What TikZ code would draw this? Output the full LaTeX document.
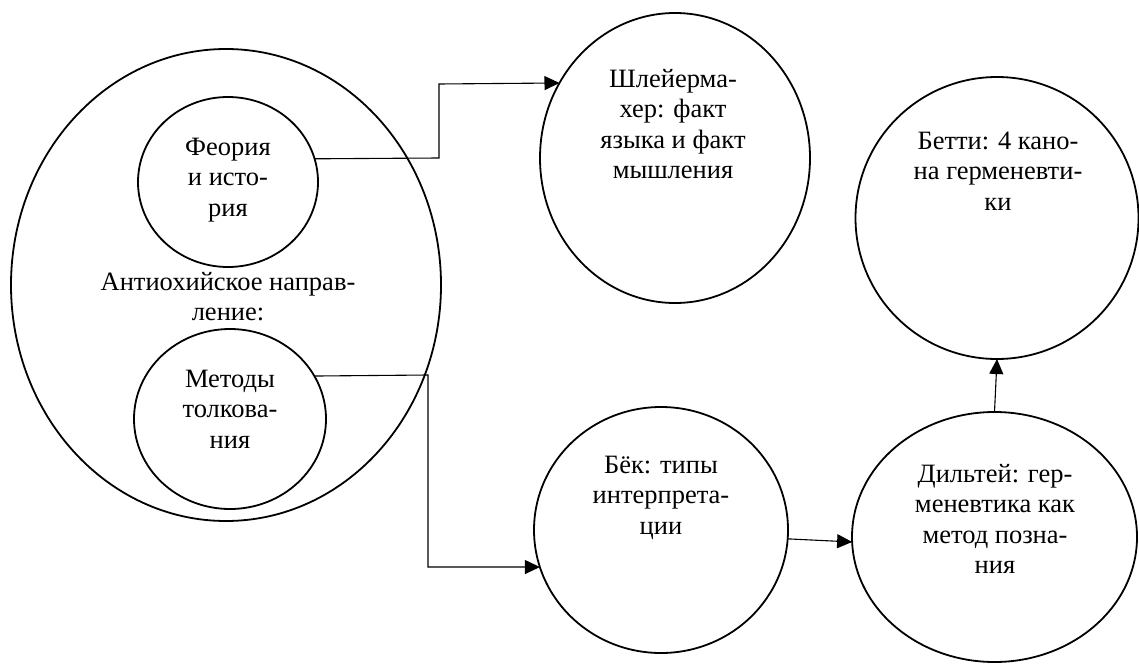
\documentclass[tikz,border=0pt]{standalone}
\usepackage{fontspec}
\setmainfont{Liberation Serif}
\usetikzlibrary{shapes.geometric,arrows.meta}
\begin{document}
\begin{tikzpicture}[x=1pt,y=-1pt,
  oval/.style={draw,ellipse,line width=1.8pt,inner sep=0pt,outer sep=0pt},
  txt/.style={align=center,anchor=north,inner sep=0pt,font=\rmfamily\fontsize{26.5}{30.5}\selectfont},
  arr/.style={line width=1.1pt,-{Triangle[length=15pt,width=14pt]}}]
\useasboundingbox (0,0) rectangle (1139,666);
% ellipses
\node[oval,minimum width=430pt,minimum height=472pt] (ant) at (226,285) {};
\node[oval,minimum width=180pt,minimum height=170pt] (feo) at (228,182) {};
\node[oval,minimum width=192pt,minimum height=180pt] (met) at (230,419) {};
\node[oval,minimum width=270pt,minimum height=290pt] (sch) at (675,158) {};
\node[oval,minimum width=254pt,minimum height=246pt] (bek) at (661,530) {};
\node[oval,minimum width=285pt,minimum height=250pt] (dil) at (994.5,537) {};
\node[oval,minimum width=283pt,minimum height=282pt] (bet) at (997,218) {};
% texts
\node[txt] (tfeo) at (228,135) {\rule{0pt}{20pt}Феория\\и исто-\\рия};
\node[txt] (tant) at (228,270) {\rule{0pt}{20pt}Антиохийское направ-\\ление:};
\node[txt] (tmet) at (230,367) {\rule{0pt}{20pt}Методы\\толкова-\\ния};
\node[txt] (tsch) at (673,67) {\rule{0pt}{20pt}Шлейерма-\\хер: факт\\языка и факт\\мышления};
\node[txt] (tbet) at (998,129) {\rule{0pt}{20pt}Бетти: 4 кано-\\на герменевти-\\ки};
\node[txt] (tbek) at (661,453) {\rule{0pt}{20pt}Бёк: типы\\интерпрета-\\ции};
\node[txt] (tdil) at (995,462) {\rule{0pt}{20pt}Дильтей: гер-\\меневтика как\\метод позна-\\ния};
% connectors
\draw[arr] (feo.15.6) -- (439,158) -- (439,84) -- (sch.147.5);
\draw[arr] (met.27.6) -- (428,375) -- (428,567) -- (bek.197);
\draw[arr] (bek.-4.5) -- (dil.182.4);
\draw[arr] (dil.north) -- (bet.south);
\end{tikzpicture}
\end{document}
